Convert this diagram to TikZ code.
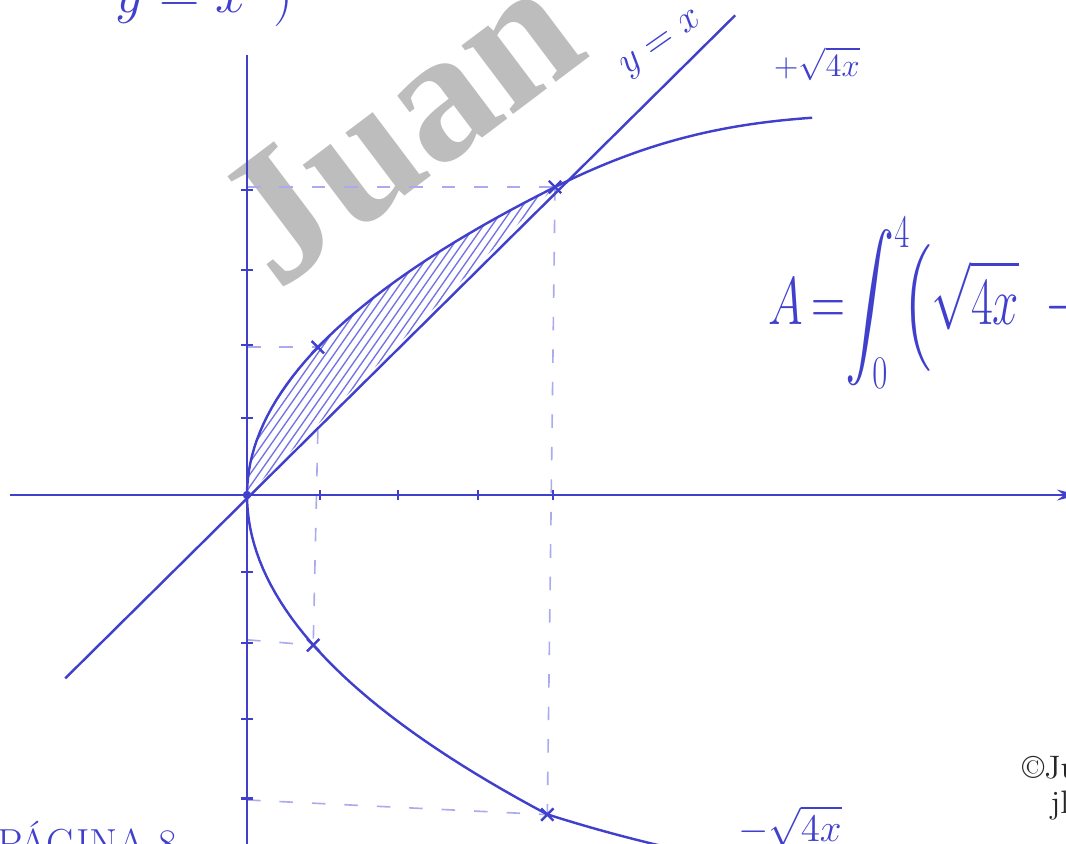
\documentclass[tikz,border=0pt]{standalone}
\usepackage{fontspec}
\usepackage{amsmath,amssymb}
\newfontfamily\markfont{Liberation Serif}
\usetikzlibrary{arrows.meta}
\definecolor{ink}{RGB}{64,64,205}
\definecolor{inklight}{RGB}{170,170,238}
\definecolor{hatchink}{RGB}{115,115,228}

\begin{document}
\begin{tikzpicture}[
    pen/.style={ink, line width=0.9pt},
    guide/.style={inklight, line width=0.6pt, dash pattern=on 5pt off 7pt},
    hatchline/.style={hatchink, line width=0.5pt},
    tickmark/.style={ink, line width=0.8pt},
    hand/.style={text=ink, inner sep=0pt}]
  \useasboundingbox (-3.208,-4.519) rectangle (10.636,6.429);
  \clip (-3.208,-4.519) rectangle (10.636,6.429);

  % watermark
  \node[rotate=37, anchor=base west, text=black!40, opacity=0.65,
        font=\markfont\bfseries\fontsize{69}{69}\selectfont] (mark) at (0.3,2.56) {Juan};

  \coordinate (O) at (0,0);
  \coordinate (P1) at (0.92,1.92);
  \coordinate (P4) at (4,4);
  \coordinate (Q1) at (0.86,-1.95);
  \coordinate (Q4) at (3.9,-4.15);

  % hatched region
  \begin{scope}
    \clip plot[domain=0:2, samples=40] ({\x*\x},{2*\x}) -- cycle;
    \foreach \s in {-0.7,-0.59,...,1.5}
      \draw[hatchline] (\s,0) ++(235:3) -- ++(55:12);
  \end{scope}

  % guides
  \draw[guide] (0,4) -- (P4);
  \draw[guide] (0,1.92) -- (P1);
  \draw[guide] (0.92,0.84) -- (Q1);
  \draw[guide] (P4) -- (Q4);
  \draw[guide] (0,-1.88) -- (Q1);
  \draw[guide] (0,-3.96) -- (Q4);

  % axes
  \draw[pen, -{Stealth[length=8pt,width=4pt]}] (-3.08,0) -- (10.8,0);
  \draw[pen] (0,-4.7) -- (0,5.71);
  \foreach \t in {0.95,1.96,3.0,3.97} \draw[tickmark] (\t,-0.06) -- (\t,0.06);
  \foreach \t in {1,1.95,2.92,3.96,-1,-1.92,-2.91,-3.94} \draw[tickmark] (-0.08,\t) -- (0.08,\t);

  % curves
  \draw[pen] (-2.36,-2.38) -- (6.34,6.23);
  \draw[pen] plot[domain=0:2, samples=40] ({\x*\x},{2*\x})
    .. controls (5.2,4.6) and (6.2,4.82) .. (7.34,4.9);
  \draw[pen] plot[domain=0:1.975, samples=40] ({\x*\x},{-2.1*\x})
    .. controls (4.6,-4.37) and (5.2,-4.52) .. (6.0,-4.7);

  \foreach \p in {P1,P4,Q1,Q4}
    \draw[pen] (\p) +(-0.08,-0.08) -- +(0.08,0.08) (\p) +(-0.08,0.08) -- +(0.08,-0.08);
  \fill[ink] (O) circle (0.055);

  % labels
  \node[hand, rotate=35, font=\fontsize{14}{16}\selectfont] (lineLabel) at (5.4,5.84) {$y=x$};
  \node[hand, font=\fontsize{12}{14}\selectfont] (plusLabel) at (7.4,5.6) {$+\sqrt{4x}$};
  \node[hand, font=\fontsize{15}{18}\selectfont] (minusLabel) at (7.05,-4.3) {$-\sqrt{4x}$};
  \node[hand, anchor=base west, xscale=0.7, font=\fontsize{26}{30}\selectfont] (area) at (6.77,2.21)
    {$\displaystyle A\,{=}\!\int_0^4\!\Bigl(\sqrt{4x}\;\;-$};
  \node[hand, anchor=base west, font=\fontsize{20}{24}\selectfont] (topNote) at (-1.72,6.27) {$y = x\enspace)$};
  \node[hand, anchor=north west, font=\fontsize{15}{18}\selectfont] (page) at (-3.25,-4.23) {PÁGINA 8};
  \node[anchor=base west, inner sep=0pt, text=black!85, font=\fontsize{12}{14}\selectfont] (copyA) at (10.06,-3.68) {\textcopyright Ju};
  \node[anchor=base west, inner sep=0pt, text=black!85, font=\fontsize{12}{14}\selectfont] (copyB) at (10.43,-4.13) {jl};
\end{tikzpicture}
\end{document}
